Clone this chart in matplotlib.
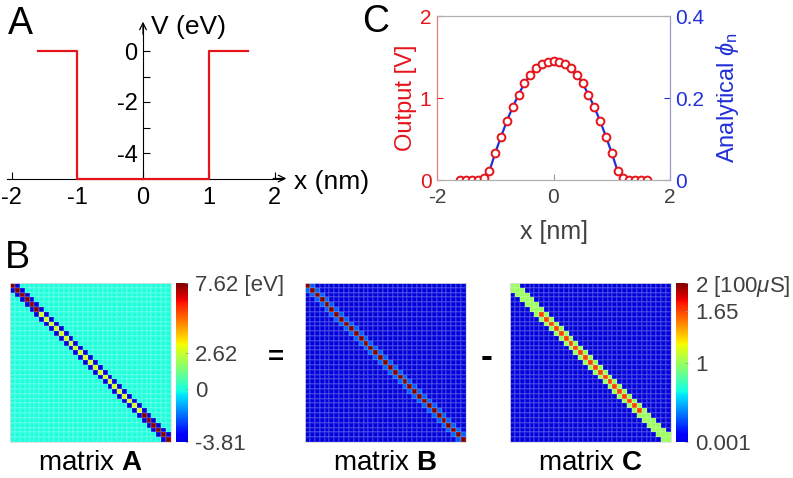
import numpy as np
import matplotlib
matplotlib.use('Agg')
import matplotlib.pyplot as plt
from matplotlib.colors import ListedColormap

plt.rcParams['font.family'] = ['Liberation Sans', 'DejaVu Sans']
plt.rcParams['mathtext.fontset'] = 'custom'
plt.rcParams['mathtext.rm'] = 'Liberation Sans'
plt.rcParams['mathtext.it'] = 'Liberation Sans:italic'
plt.rcParams['mathtext.bf'] = 'Liberation Sans:bold'
plt.rcParams['axes.unicode_minus'] = False

# panel A: square well potential
well_x = [-1.6, -1.0, -1.0, 1.0, 1.0, 1.6]
well_v = [0, 0, -5, -5, 0, 0]

# panel C: circuit output vs analytical ground state
grid_x = [-1.6, -1.5, -1.4, -1.3, -1.2, -1.1, -1.0, -0.9, -0.8, -0.7, -0.6,
          -0.5, -0.4, -0.3, -0.2, -0.1, 0.0, 0.1, 0.2, 0.3, 0.4, 0.5,
          0.6, 0.7, 0.8, 0.9, 1.0, 1.1, 1.2, 1.3, 1.4, 1.5, 1.6]
output_v = [0.0, 0.0, 0.0, 0.005, 0.03, 0.11, 0.33, 0.53, 0.72, 0.89, 1.04,
            1.18, 1.28, 1.36, 1.41, 1.44, 1.45, 1.44, 1.42, 1.36, 1.28, 1.18,
            1.04, 0.89, 0.72, 0.53, 0.33, 0.11, 0.03, 0.005, 0.0, 0.0, 0.0]
analytic_phi = [0.0, 0.0, 0.0, 0.001, 0.006, 0.022, 0.066, 0.106, 0.144, 0.178, 0.208,
                0.236, 0.256, 0.272, 0.282, 0.288, 0.290, 0.288, 0.284, 0.272, 0.256, 0.236,
                0.208, 0.178, 0.144, 0.106, 0.066, 0.022, 0.006, 0.001, 0.0, 0.0, 0.0]

# panel B: matrices (33 x 33 tridiagonal)
a_diag = [7.62] * 6 + [2.62] * 21 + [7.62] * 6
a_off = -3.81
b_diag = [2.0] * 33
b_off = 0.3
b_floor = 0.001
c_diag = [1.0] * 6 + [1.65] * 21 + [1.0] * 6
c_off = 1.0
a_ticks = [-3.81, 0, 2.62, 7.62]
a_ticklabels = ['-3.81', '0', '2.62', '7.62 [eV]']
c_ticks = [0.001, 1, 1.65, 2]
c_ticklabels = ['0.001', '1', '1.65', r'2 [100$\mu$S]']


def tridiag(diag, off, floor=0.0):
    n = len(diag)
    m = np.full((n, n), floor)
    m[np.arange(n), np.arange(n)] = diag
    m[np.arange(n - 1), np.arange(1, n)] = off
    m[np.arange(1, n), np.arange(n - 1)] = off
    return m


mat_a = tridiag(a_diag, a_off)
mat_b = tridiag(b_diag, b_off, b_floor)
mat_c = tridiag(c_diag, c_off, b_floor)

W, H = 793, 478
fig = plt.figure(figsize=(W / 100, H / 100), dpi=100)


def box(l, t, r, b):
    # pixel box -> figure fraction
    return [l / W, 1 - b / H, (r - l) / W, (b - t) / H]


red = '#e5141b'
blue = '#2130d8'
grey = '#404040'

# ---------------- panel A ----------------
xmin, xmax = -2.07, 2.18
ymin, ymax = -5.1, 1.15
ax = fig.add_axes(box(143 + xmin * 65.75, 51 - ymax * 25.5, 143 + xmax * 65.75, 51 - ymin * 25.5))
ax.set_xlim(xmin, xmax)
ax.set_ylim(ymin, ymax)
ax.patch.set_visible(False)
ax.plot(well_x, well_v, color=red, lw=1.6, zorder=5, clip_on=False)
for s in ['top', 'right']:
    ax.spines[s].set_visible(False)
ax.spines['left'].set_position(('data', 0))
ax.spines['bottom'].set_position(('data', -5))
ax.spines['bottom'].set_bounds(xmin, xmax - 0.05)
ax.spines['left'].set_bounds(-5, ymax - 0.1)
ax.annotate('', xy=(xmax, -5), xytext=(xmax - 0.2, -5),
            arrowprops=dict(arrowstyle='->', lw=0.9, color='k', shrinkA=0, shrinkB=0,
                            mutation_scale=12))
ax.annotate('', xy=(0, ymax), xytext=(0, ymax - 0.5),
            arrowprops=dict(arrowstyle='->', lw=0.9, color='k', shrinkA=0, shrinkB=0,
                            mutation_scale=12))
ax.set_xticks([-2, -1, 0, 1, 2])
ax.set_xticklabels(['-2', '-1', '0', '1', '2'])
ax.set_yticks([0, -2, -4])
ax.set_yticklabels(['0', '-2', '-4'])
ax.set_yticks([-1, -3], minor=True)
ax.tick_params(axis='x', direction='in', length=5, width=0.8, labelsize=17, pad=6)
ax.tick_params(axis='y', which='both', direction='in', length=5, width=0.8, labelsize=17, pad=4)
ax.text(0.12, 0.95, 'V (eV)', fontsize=19, va='center', ha='left')
ax.text(2.3, -5.15, 'x (nm)', fontsize=19, va='center', ha='left', clip_on=False)
fig.text(8 / W, 1 - 24 / H, 'A', fontsize=27, va='center', ha='left')

# ---------------- panel C ----------------
axc = fig.add_axes(box(437, 16, 670, 180))
axr = axc.twinx()
axc.set_zorder(axr.get_zorder() + 1)
axc.patch.set_visible(False)
axr.plot(grid_x, analytic_phi, color=blue, lw=1.6)
axc.plot(grid_x, output_v, 'o', mfc='white', mec=red, ms=5.6, mew=1.4)
axc.set_xlim(-2, 2)
axc.set_ylim(0, 2)
axr.set_ylim(0, 0.4)
axc.set_xticks([-2, 0, 2])
axc.set_yticks([0, 1, 2])
axr.set_yticks([0, 0.2, 0.4])
axr.set_yticklabels(['0', '0.2', '0.4'])
axc.tick_params(axis='x', direction='in', length=4, labelsize=15, labelcolor=grey, color='#999999', pad=6)
axc.tick_params(axis='y', direction='in', length=4, labelsize=15, colors=red, pad=4)
axr.tick_params(axis='y', direction='in', length=4, labelsize=15, colors=blue, pad=4)
for a in (axc, axr):
    a.spines['top'].set_color('#b0b0b0')
    a.spines['bottom'].set_color('#b0b0b0')
    a.spines['left'].set_color('#e87878')
    a.spines['right'].set_color('#9a9ac8')
axc.set_xlabel('x [nm]', fontsize=18, color=grey, labelpad=9)
axc.set_ylabel('Output [V]', fontsize=17, color=red, labelpad=2)
axr.set_ylabel(r'Analytical $\phi_{\rm n}$', fontsize=17, color=blue, labelpad=7)
fig.text(362 / W, 1 - 22 / H, 'C', fontsize=27, va='center', ha='left')

# ---------------- panel B ----------------
jet_cut = ListedColormap(plt.cm.jet(np.linspace(0.08, 1.0, 256)))


def draw_matrix(mat, l, vmin, vmax):
    axm = fig.add_axes(box(l, 283, l + 161, 442))
    pc = axm.pcolormesh(mat, cmap=jet_cut, vmin=vmin, vmax=vmax,
                        edgecolors=(1, 1, 1, 0.12), linewidth=0.3)
    axm.set_xlim(0, mat.shape[1])
    axm.set_ylim(mat.shape[0], 0)
    axm.set_xticks([])
    axm.set_yticks([])
    for s in axm.spines.values():
        s.set_color('#dddddd')
        s.set_linewidth(0.6)
    return pc


def draw_cbar(pc, l, ticks, labels):
    cax = fig.add_axes(box(l, 283, l + 12, 442))
    cb = fig.colorbar(pc, cax=cax)
    cb.set_ticks(ticks)
    cb.set_ticklabels(labels)
    cb.outline.set_visible(False)
    cax.tick_params(direction='in', length=2, width=0.5, color='#999999',
                    labelsize=16, labelcolor=grey, pad=5)
    return cb


pa = draw_matrix(mat_a, 10, -3.81, 7.62)
draw_cbar(pa, 176, a_ticks, a_ticklabels)
draw_matrix(mat_b, 305, 0.001, 2)
pcc = draw_matrix(mat_c, 510, 0.001, 2)
draw_cbar(pcc, 676, c_ticks, c_ticklabels)

fig.text(276 / W, 1 - 358 / H, '=', fontsize=20, fontweight='bold', ha='center', va='center')
fig.text(487 / W, 1 - 357 / H, '-', fontsize=26, fontweight='bold', ha='center', va='center')
for cx, name in [(90, 'A'), (385, 'B'), (590, 'C')]:
    fig.text(cx / W, 1 - 463 / H, r'matrix $\mathbf{%s}$' % name, fontsize=20,
             ha='center', va='center')
fig.text(5 / W, 1 - 258 / H, 'B', fontsize=27, va='center', ha='left')

fig.savefig('out.png', dpi=100)
